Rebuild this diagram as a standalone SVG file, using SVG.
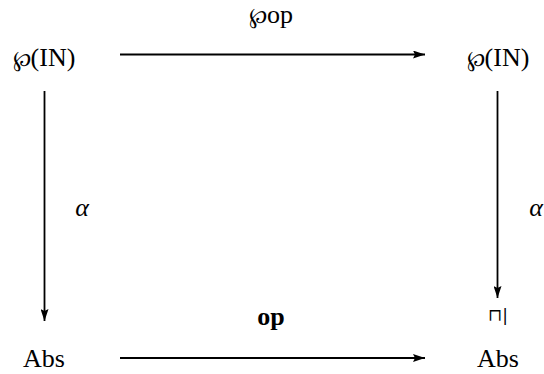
<svg xmlns="http://www.w3.org/2000/svg" width="544" height="374" viewBox="0 0 544 374">
<style>
  .t { font-family: "Liberation Serif", "DejaVu Serif", serif; font-size: 26px; fill: #000; }
  .s { font-family: "DejaVu Serif", "Liberation Serif", serif; }
  .e { stroke: #000; stroke-width: 1.8; fill: none; }
</style>
<defs>
  <marker id="ah" viewBox="0 0 12 8" refX="12" refY="4" markerWidth="12" markerHeight="8" markerUnits="userSpaceOnUse" orient="auto">
    <path d="M0,0 L12,4 L0,8 L2,4 Z" fill="#000"/>
  </marker>
</defs>
<rect width="544" height="374" fill="#fff"/>
<g id="connectors">
  <line class="e" x1="120" y1="54.5" x2="425" y2="54.5" marker-end="url(#ah)"/>
  <line class="e" x1="44.5" y1="91" x2="44.5" y2="321" marker-end="url(#ah)"/>
  <line class="e" x1="497.5" y1="91" x2="497.5" y2="298" marker-end="url(#ah)"/>
  <line class="e" x1="120" y1="358" x2="425" y2="358" marker-end="url(#ah)"/>
  <text class="t" x="271" y="23" text-anchor="middle"><tspan class="s" font-size="22">℘</tspan>op</text>
  <text class="t" x="82" y="216" text-anchor="middle" font-style="italic">α</text>
  <text class="t" x="536" y="216" text-anchor="middle" font-style="italic">α</text>
  <text class="t" x="271" y="325" text-anchor="middle" font-weight="bold">op</text>
</g>
<g id="tl">
  <text class="t" x="44" y="66" text-anchor="middle"><tspan class="s" font-size="22">℘</tspan>(IN)</text>
</g>
<g id="tr">
  <text class="t" x="498" y="66" text-anchor="middle"><tspan class="s" font-size="22">℘</tspan>(IN)</text>
</g>
<g id="bl">
  <text class="t" x="44" y="367" text-anchor="middle">Abs</text>
</g>
<g id="br">
  <text class="t" x="498" y="367" text-anchor="middle">Abs</text>
  <text class="s" x="498" y="321" text-anchor="middle" font-size="17">⊓|</text>
</g>
</svg>
